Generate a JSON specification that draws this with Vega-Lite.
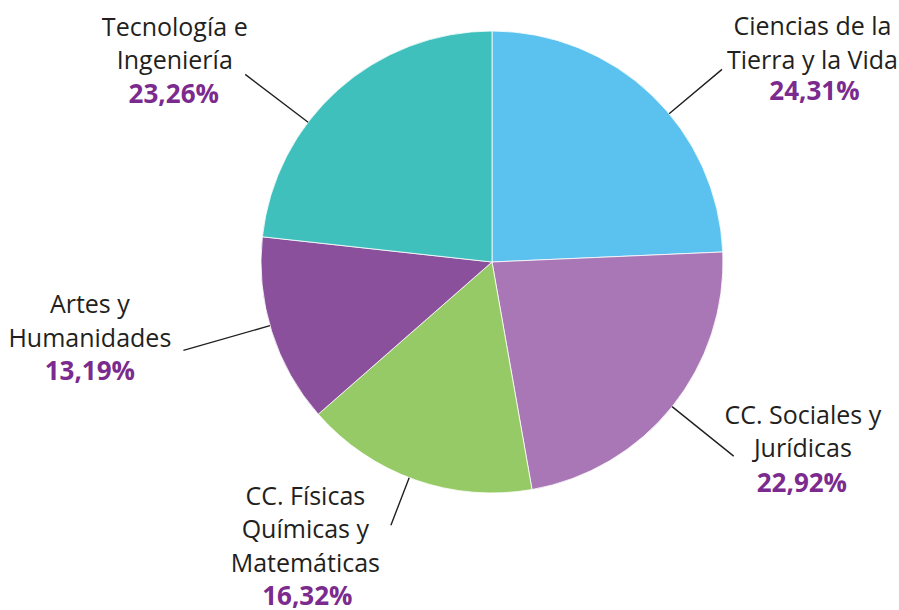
{
  "$schema": "https://vega.github.io/schema/vega-lite/v6.json",
  "width": 814,
  "height": 524,
  "autosize": {"type": "none"},
  "padding": {"left": 85, "top": 0, "right": 0, "bottom": 86},
  "background": "white",
  "config": {"view": {"stroke": null}},
  "data": {
    "values": [
      {"order": 1, "cat": "Ciencias de la Tierra y la Vida", "label": "Ciencias de la\nTierra y la Vida", "value": 24.31, "pct": "24,31%"},
      {"order": 2, "cat": "CC. Sociales y Jurídicas", "label": "CC. Sociales y\nJurídicas", "value": 22.92, "pct": "22,92%"},
      {"order": 3, "cat": "CC. Físicas Químicas y Matemáticas", "label": "CC. Físicas\nQuímicas y\nMatemáticas", "value": 16.32, "pct": "16,32%"},
      {"order": 4, "cat": "Artes y Humanidades", "label": "Artes y\nHumanidades", "value": 13.19, "pct": "13,19%"},
      {"order": 5, "cat": "Tecnología e Ingeniería", "label": "Tecnología e\nIngeniería", "value": 23.26, "pct": "23,26%"}
    ]
  },
  "transform": [
    {"stack": "value", "groupby": [], "sort": [{"field": "order", "order": "ascending"}], "as": ["v0", "v1"]},
    {"calculate": "(datum.v0 + datum.v1) / 2", "as": "mid"}
  ],
  "layer": [
    {
      "mark": {"type": "arc", "outerRadius": 231, "stroke": "#ffffff", "strokeWidth": 0.8},
      "encoding": {
        "theta": {"field": "v0", "type": "quantitative", "scale": {"domain": [0, 100]}},
        "theta2": {"field": "v1"},
        "color": {
          "field": "cat",
          "type": "nominal",
          "scale": {
            "domain": ["Ciencias de la Tierra y la Vida", "CC. Sociales y Jurídicas", "CC. Físicas Químicas y Matemáticas", "Artes y Humanidades", "Tecnología e Ingeniería"],
            "range": ["#5BC2EF", "#A977B5", "#96CA66", "#8B509C", "#40C0BD"]
          },
          "legend": null
        }
      }
    },
    {
      "transform": [{"filter": "datum.order == 1"}],
      "mark": {"type": "arc", "filled": false, "stroke": "#231F20", "strokeWidth": 1.4, "radius": 300, "radius2": 231, "thetaOffset": 0.11, "theta2Offset": 0.11},
      "encoding": {"theta": {"field": "mid", "type": "quantitative"}, "theta2": {"field": "mid"}}
    },
    {
      "transform": [{"filter": "datum.order == 2"}],
      "mark": {"type": "arc", "filled": false, "stroke": "#231F20", "strokeWidth": 1.4, "radius": 310, "radius2": 231},
      "encoding": {"theta": {"field": "mid", "type": "quantitative"}, "theta2": {"field": "mid"}}
    },
    {
      "transform": [{"filter": "datum.order == 3"}],
      "mark": {"type": "arc", "filled": false, "stroke": "#231F20", "strokeWidth": 1.4, "radius": 282, "radius2": 231, "thetaOffset": 0.028, "theta2Offset": 0.028},
      "encoding": {"theta": {"field": "mid", "type": "quantitative"}, "theta2": {"field": "mid"}}
    },
    {
      "transform": [{"filter": "datum.order == 4"}],
      "mark": {"type": "arc", "filled": false, "stroke": "#231F20", "strokeWidth": 1.4, "radius": 321, "radius2": 231, "thetaOffset": 0.026, "theta2Offset": 0.026},
      "encoding": {"theta": {"field": "mid", "type": "quantitative"}, "theta2": {"field": "mid"}}
    },
    {
      "transform": [{"filter": "datum.order == 5"}],
      "mark": {"type": "arc", "filled": false, "stroke": "#231F20", "strokeWidth": 1.4, "radius": 310, "radius2": 231, "thetaOffset": -0.19, "theta2Offset": -0.19},
      "encoding": {"theta": {"field": "mid", "type": "quantitative"}, "theta2": {"field": "mid"}}
    },
    {
      "transform": [{"filter": "datum.order == 1"}],
      "mark": {"type": "text", "radius": 300, "font": "Open Sans", "fontSize": 25, "fill": "#231F20", "align": "center", "baseline": "middle", "lineBreak": "\n", "lineHeight": 33.5, "dx": 113, "dy": -18},
      "encoding": {"theta": {"field": "mid", "type": "quantitative"}, "text": {"field": "label"}}
    },
    {
      "transform": [{"filter": "datum.order == 1"}],
      "mark": {"type": "text", "radius": 300, "font": "Open Sans", "fontSize": 26, "fontWeight": "bold", "fill": "#7B2B8E", "align": "center", "baseline": "middle", "dx": 115, "dy": 47},
      "encoding": {"theta": {"field": "mid", "type": "quantitative"}, "text": {"field": "pct"}}
    },
    {
      "transform": [{"filter": "datum.order == 2"}],
      "mark": {"type": "text", "radius": 300, "font": "Open Sans", "fontSize": 25, "fill": "#231F20", "align": "center", "baseline": "middle", "lineBreak": "\n", "lineHeight": 33.5, "dx": 77, "dy": -34},
      "encoding": {"theta": {"field": "mid", "type": "quantitative"}, "text": {"field": "label"}}
    },
    {
      "transform": [{"filter": "datum.order == 2"}],
      "mark": {"type": "text", "radius": 300, "font": "Open Sans", "fontSize": 26, "fontWeight": "bold", "fill": "#7B2B8E", "align": "center", "baseline": "middle", "dx": 76, "dy": 34},
      "encoding": {"theta": {"field": "mid", "type": "quantitative"}, "text": {"field": "pct"}}
    },
    {
      "transform": [{"filter": "datum.order == 3"}],
      "mark": {"type": "text", "radius": 300, "font": "Open Sans", "fontSize": 25, "fill": "#231F20", "align": "center", "baseline": "middle", "lineBreak": "\n", "lineHeight": 33.5, "dx": -87, "dy": -48},
      "encoding": {"theta": {"field": "mid", "type": "quantitative"}, "text": {"field": "label"}}
    },
    {
      "transform": [{"filter": "datum.order == 3"}],
      "mark": {"type": "text", "radius": 300, "font": "Open Sans", "fontSize": 26, "fontWeight": "bold", "fill": "#7B2B8E", "align": "center", "baseline": "middle", "dx": -85, "dy": 52},
      "encoding": {"theta": {"field": "mid", "type": "quantitative"}, "text": {"field": "pct"}}
    },
    {
      "transform": [{"filter": "datum.order == 4"}],
      "mark": {"type": "text", "radius": 300, "font": "Open Sans", "fontSize": 25, "fill": "#231F20", "align": "center", "baseline": "middle", "lineBreak": "\n", "lineHeight": 33.5, "dx": -116, "dy": -47},
      "encoding": {"theta": {"field": "mid", "type": "quantitative"}, "text": {"field": "label"}}
    },
    {
      "transform": [{"filter": "datum.order == 4"}],
      "mark": {"type": "text", "radius": 300, "font": "Open Sans", "fontSize": 26, "fontWeight": "bold", "fill": "#7B2B8E", "align": "center", "baseline": "middle", "dx": -116, "dy": 20},
      "encoding": {"theta": {"field": "mid", "type": "quantitative"}, "text": {"field": "pct"}}
    },
    {
      "transform": [{"filter": "datum.order == 5"}],
      "mark": {"type": "text", "radius": 300, "font": "Open Sans", "fontSize": 25, "fill": "#231F20", "align": "center", "baseline": "middle", "lineBreak": "\n", "lineHeight": 33.5, "dx": -117, "dy": -11},
      "encoding": {"theta": {"field": "mid", "type": "quantitative"}, "text": {"field": "label"}}
    },
    {
      "transform": [{"filter": "datum.order == 5"}],
      "mark": {"type": "text", "radius": 300, "font": "Open Sans", "fontSize": 26, "fontWeight": "bold", "fill": "#7B2B8E", "align": "center", "baseline": "middle", "dx": -118, "dy": 56},
      "encoding": {"theta": {"field": "mid", "type": "quantitative"}, "text": {"field": "pct"}}
    }
  ]
}
